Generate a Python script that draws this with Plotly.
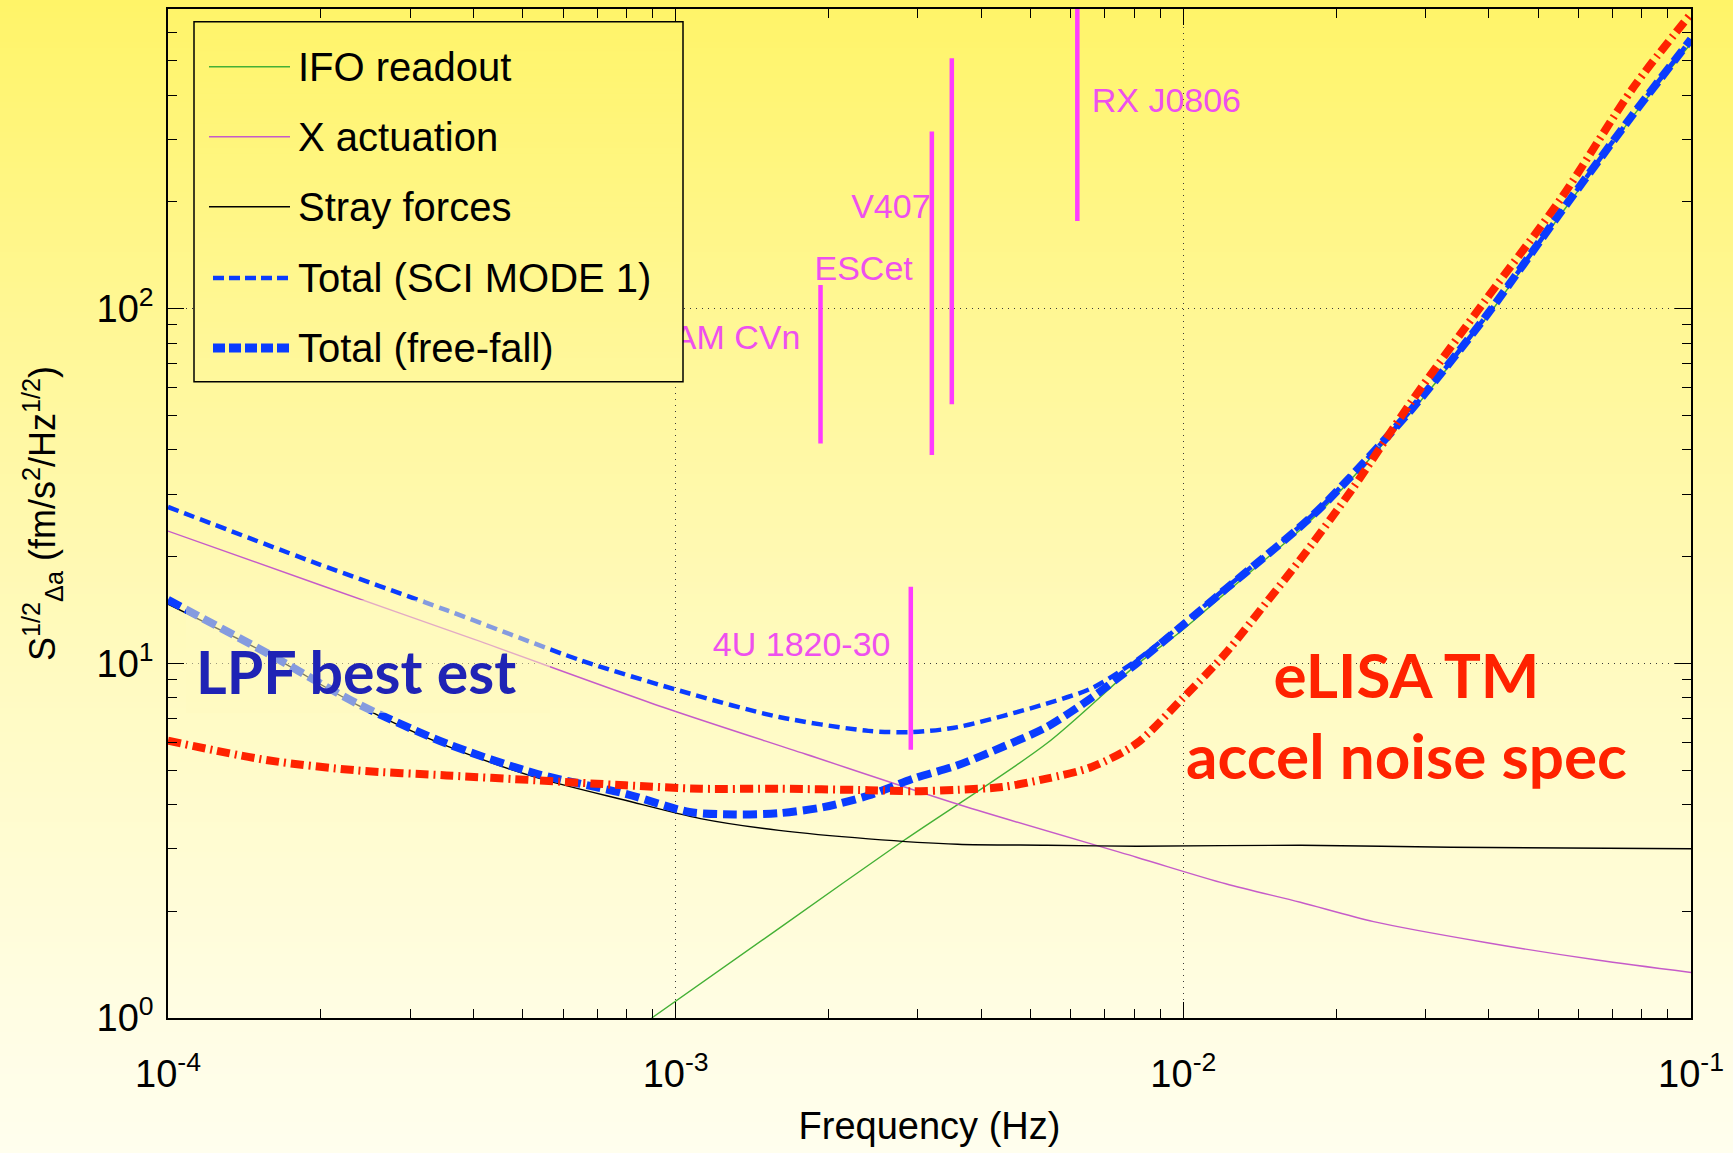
import plotly.graph_objects as go

# ---------------- data (frequency in Hz, ASD in fm/s^2/Hz^1/2) ----------------
ifo_freq = [8.97e-4, 1.598e-3, 2.818e-3, 5.379e-3, 8.085e-3, 9.883e-3, 1.212e-2, 1.43e-2,
            1.694e-2, 1.905e-2, 2.808e-2, 3.938e-2, 5.521e-2, 7.722e-2, 1.0e-1]
ifo_asd = [1.0, 1.79, 3.17, 5.94, 9.9, 12.3, 15.8, 19.3, 23.7, 27.7, 51.0, 93.5, 183.0,
           352.0, 560.0]

xact_freq = [1.0e-4, 2.0e-4, 4.0e-4, 9.45e-4, 1.8e-3, 3.65e-3, 8.085e-3, 1.212e-2, 1.7e-2,
             2.37e-2, 3.94e-2, 6.53e-2, 1.0e-1]
xact_asd = [23.6, 16.6, 11.7, 7.52, 5.55, 3.98, 2.84, 2.39, 2.12, 1.87, 1.633, 1.457, 1.344]

stray_freq = [1.0e-4, 1.573e-4, 2.359e-4, 3.538e-4, 5.306e-4, 7.958e-4, 1.119e-3, 1.598e-3,
              2.398e-3, 3.592e-3, 5.379e-3, 8.085e-3, 1.703e-2, 3.366e-2, 1.0e-1]
stray_asd = [14.68, 10.61, 7.64, 5.85, 4.77, 4.11, 3.65, 3.38, 3.20, 3.09, 3.07, 3.05,
             3.07, 3.03, 3.00]

sci_freq = [1.0e-4, 1.927e-4, 3.538e-4, 6.5e-4, 1.065e-3, 1.598e-3, 2.397e-3, 2.935e-3,
            3.592e-3, 5.379e-3, 6.598e-3, 8.085e-3, 9.883e-3, 1.212e-2, 1.43e-2, 1.694e-2,
            1.905e-2, 2.808e-2, 3.938e-2, 5.521e-2, 7.722e-2, 1.0e-1]
sci_asd = [27.6, 19.32, 14.12, 10.20, 8.22, 7.06, 6.45, 6.40, 6.61, 7.70, 8.51, 10.2,
           12.8, 16.3, 19.8, 24.3, 28.4, 51.8, 94.9, 185.9, 355.9, 575.0]

ff_freq = [1.0e-4, 1.573e-4, 2.359e-4, 3.538e-4, 5.306e-4, 7.958e-4, 1.064e-3, 1.305e-3,
           1.598e-3, 1.955e-3, 2.398e-3, 2.935e-3, 3.592e-3, 4.401e-3, 5.379e-3, 6.598e-3,
           8.085e-3, 9.883e-3, 1.212e-2, 1.43e-2, 1.694e-2, 1.905e-2, 2.808e-2, 3.938e-2,
           5.521e-2, 7.722e-2, 1.0e-1]
ff_asd = [15.1, 10.66, 7.70, 5.94, 4.89, 4.29, 3.81, 3.75, 3.78, 3.93, 4.24, 4.73, 5.16,
          5.81, 6.61, 8.0, 9.99, 12.67, 16.2, 19.7, 24.2, 28.3, 51.79, 94.9, 185.9,
          355.9, 575.0]

elisa_freq = [1.0e-4, 1.573e-4, 2.359e-4, 3.538e-4, 5.306e-4, 7.958e-4, 1.119e-3, 1.598e-3,
              2.398e-3, 2.935e-3, 3.592e-3, 4.401e-3, 5.379e-3, 6.598e-3, 8.085e-3, 9.883e-3,
              1.207e-2, 1.453e-2, 1.696e-2, 2.145e-2, 2.808e-2, 3.938e-2, 5.521e-2, 7.722e-2,
              1.0e-1]
elisa_asd = [6.05, 5.33, 4.99, 4.83, 4.68, 4.53, 4.43, 4.43, 4.39, 4.36, 4.40, 4.48, 4.73,
             5.10, 5.94, 7.87, 10.61, 14.77, 19.54, 30.8, 54.5, 105.8, 202.6, 423.0, 678.5]

# verification binaries: frequency and ASD span of each bar
bar_freq = [1.929e-3, 2.905e-3, 3.196e-3, 3.499e-3, 6.183e-3]
bar_low = [41.7, 5.71, 38.7, 53.8, 176.8]
bar_high = [116.7, 16.43, 315.8, 508.7, 1000.0]

src_labels = ["AM CVn", "ESCet", "V407", "RX J0806", "4U 1820-30"]
src_label_freq = [1.761e-3, 1.877e-3, 3.178e-3, 6.6e-3, 2.65e-3]
src_label_asd = [81.1, 127.4, 190.3, 379.8, 11.07]
src_label_pos = ["middle left", "middle right", "middle left", "middle right", "middle left"]

x_tick_vals = [1e-4, 1e-3, 1e-2, 1e-1]
x_tick_text = ["10<sup>-4</sup>", "10<sup>-3</sup>", "10<sup>-2</sup>", "10<sup>-1</sup>"]
y_tick_vals = [1, 10, 100]
y_tick_text = ["10<sup>0</sup>", "10<sup>1</sup>", "10<sup>2</sup>"]

legend_labels = ["IFO readout", "X actuation", "Stray forces", "Total (SCI MODE 1)",
                 "Total (free-fall)"]

# ---------------- styling ----------------
W, H = 1733, 1153
ML, MR, MT, MB = 168, 42, 9, 135
PW, PH = W - ML - MR, H - MT - MB
FONT = "Liberation Sans, Arial, Helvetica, sans-serif"
BOLD = "Lato, Open Sans, sans-serif"
GREEN, MAGENTA, BLUE, RED, SRC = "#44B035", "#C65BC9", "#0A3CFF", "#FF2200", "#FF3CFF"


def px(x):
    return (x - ML) / PW


def py(y):
    return 1 - (y - MT) / PH


grad = [(0, (255, 244, 104)), (300, (255, 247, 146)), (650, (255, 250, 190)),
        (1000, (255, 253, 226)), (1153, (255, 254, 238))]


def bg_rgb(y):
    for (y0, c0), (y1, c1) in zip(grad[:-1], grad[1:]):
        if y0 <= y <= y1:
            t = (y - y0) / (y1 - y0)
            return tuple(round(a + (b - a) * t) for a, b in zip(c0, c1))
    return grad[-1][1]


def bg(y):
    return "rgb(%d,%d,%d)" % bg_rgb(y)


shapes = []
band = 6
for y0 in range(0, H, band):
    shapes.append(dict(type="rect", xref="paper", yref="paper", layer="below",
                       x0=px(0), x1=px(W), y0=py(y0), y1=py(y0 + band + 1),
                       fillcolor=bg(y0 + band / 2), line=dict(width=0)))

fig = go.Figure()

common = dict(mode="lines", showlegend=False, hoverinfo="skip", line_shape="spline")
fig.add_trace(go.Scatter(x=ifo_freq, y=ifo_asd, name=legend_labels[0],
                         line=dict(color=GREEN, width=1.4, smoothing=0.8), **common))
fig.add_trace(go.Scatter(x=xact_freq, y=xact_asd, name=legend_labels[1],
                         line=dict(color=MAGENTA, width=1.4, smoothing=0.8), **common))
fig.add_trace(go.Scatter(x=stray_freq, y=stray_asd, name=legend_labels[2],
                         line=dict(color="black", width=1.4, smoothing=0.8), **common))
fig.add_trace(go.Scatter(x=sci_freq, y=sci_asd, name=legend_labels[3],
                         line=dict(color=BLUE, width=4.5, dash="11px,6px", smoothing=0.8),
                         **common))
fig.add_trace(go.Scatter(x=ff_freq, y=ff_asd, name=legend_labels[4],
                         line=dict(color=BLUE, width=8, dash="14px,6px", smoothing=0.8),
                         **common))
fig.add_trace(go.Scatter(x=elisa_freq, y=elisa_asd, name="eLISA TM accel noise spec",
                         line=dict(color=RED, width=8, dash="13px,5px,2px,5px", smoothing=0.8),
                         **common))

bx, by = [], []
for f, lo, hi in zip(bar_freq, bar_low, bar_high):
    bx += [f, f, None]
    by += [lo, hi, None]
fig.add_trace(go.Scatter(x=bx, y=by, mode="lines", showlegend=False, hoverinfo="skip",
                         line=dict(color=SRC, width=4.5)))
fig.add_trace(go.Scatter(x=src_label_freq, y=src_label_asd, text=src_labels, mode="text",
                         textposition=src_label_pos, showlegend=False, hoverinfo="skip",
                         textfont=dict(family=FONT, size=34, color="#EE50EE")))

# translucent box behind "LPF best est" (same tint as the background, so only lines fade)
r, g, b = bg_rgb(656)
shapes.append(dict(type="rect", xref="paper", yref="paper", layer="above",
                   x0=px(186), x1=px(550), y0=py(600), y1=py(713),
                   fillcolor="rgba(%d,%d,%d,0.5)" % (r, g, b), line=dict(width=0)))

# legend box (opaque, drawn above the data)
LX0, LX1, LY0, LY1 = 194, 683, 21.7, 381.7
yb = LY0
while yb < LY1:
    y1b = min(yb + band + 1, LY1)
    shapes.append(dict(type="rect", xref="paper", yref="paper", layer="above",
                       x0=px(LX0), x1=px(LX1), y0=py(yb), y1=py(y1b),
                       fillcolor=bg(yb + band / 2), line=dict(width=0)))
    yb += band
shapes.append(dict(type="rect", xref="paper", yref="paper", layer="above",
                   x0=px(LX0), x1=px(LX1), y0=py(LY0), y1=py(LY1),
                   line=dict(color="black", width=1.5), fillcolor="rgba(0,0,0,0)"))

leg_y = [66.7, 136.7, 206.7, 278, 348]
leg_style = [dict(color=GREEN, width=1.6), dict(color=MAGENTA, width=1.6),
             dict(color="black", width=1.6), dict(color=BLUE, width=4.5, dash="11px,5px"),
             dict(color=BLUE, width=9, dash="12px,4px")]
annotations = []
for lab, yy, st in zip(legend_labels, leg_y, leg_style):
    x0 = 213 if "dash" in st else 209
    shapes.append(dict(type="line", xref="paper", yref="paper", layer="above",
                       x0=px(x0), x1=px(290), y0=py(yy), y1=py(yy), line=st))
    annotations.append(dict(text=lab, xref="paper", yref="paper", x=px(296), y=py(yy),
                            xanchor="left", yanchor="middle", showarrow=False,
                            font=dict(family=FONT, size=40, color="black")))

annotations.append(dict(text="LPF best est", xref="paper", yref="paper",
                        x=px(194), y=py(671), xanchor="left", yanchor="middle",
                        showarrow=False,
                        font=dict(family=BOLD, size=59, color="#1F23B5", weight="bold")))
annotations.append(dict(text="eLISA TM<br>accel noise spec", xref="paper", yref="paper",
                        x=px(1406), y=py(714), xanchor="center", yanchor="middle",
                        align="center", showarrow=False,
                        font=dict(family=BOLD, size=62, color=RED, weight="bold")))

minor_x = [k * 10.0 ** e for e in range(-4, -1) for k in range(2, 10)]
minor_y = [k * 10.0 ** e for e in range(0, 3) for k in range(2, 10)]

axis_common = dict(type="log", ticks="inside", ticklen=16, tickwidth=1.2, tickcolor="black",
                   showline=True, linecolor="black", linewidth=1.5, mirror="allticks",
                   showgrid=True, gridcolor="#3a3a3a", gridwidth=1, griddash="1px,5px",
                   zeroline=False, tickfont=dict(family=FONT, size=38, color="black"))

fig.update_layout(
    width=W, height=H,
    margin=dict(l=ML, r=MR, t=MT, b=MB, autoexpand=False),
    paper_bgcolor="rgb(255,251,205)", plot_bgcolor="rgba(0,0,0,0)",
    showlegend=False,
    shapes=shapes, annotations=annotations,
    xaxis=dict(range=[-4, -1], tickmode="array", tickvals=x_tick_vals, ticktext=x_tick_text,
               ticklabelstandoff=22,
               minor=dict(tickmode="array", tickvals=minor_x, ticks="inside", ticklen=9,
                          tickcolor="black", showgrid=False),
               title=dict(text="Frequency (Hz)", standoff=18,
                          font=dict(family=FONT, size=38, color="black")),
               **axis_common),
    yaxis=dict(range=[0, 2.845], tickmode="array", tickvals=y_tick_vals, ticktext=y_tick_text,
               ticklabelstandoff=5,
               minor=dict(tickmode="array", tickvals=minor_y, ticks="inside", ticklen=9,
                          tickcolor="black", showgrid=False),
               title=dict(text="S<sup>1/2</sup><sub>\u0394a</sub> (fm/s<sup>2</sup>/Hz<sup>1/2</sup>)",
                          standoff=30, font=dict(family=FONT, size=36, color="black")),
               **axis_common),
)

fig.write_html("out.html", config={"displayModeBar": False},
               post_script="document.body.style.margin='0px';"
                           "document.body.style.overflow='hidden';")
